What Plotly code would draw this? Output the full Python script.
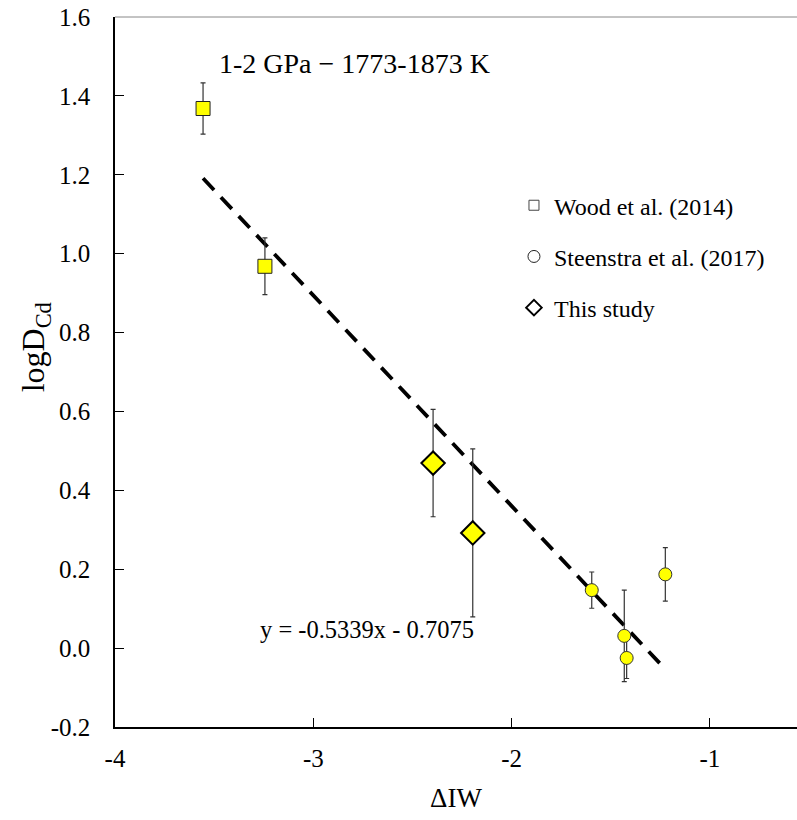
import plotly.graph_objects as go

# Data
wood_x = [-3.556, -3.244]
wood_y = [1.368, 0.968]
wood_err = [0.065, 0.072]

steen_x = [-1.596, -1.432, -1.420, -1.225]
steen_y = [0.147, 0.031, -0.025, 0.187]
steen_err = [0.046, 0.116, 0.052, 0.068]

study_x = [-2.396, -2.196]
study_y = [0.469, 0.292]
study_err = [0.136, 0.213]

slope = -0.5339
intercept = -0.7075
eq_label = "y = -0.5339x - 0.7075"
title_text = "1-2 GPa \u2212 1773-1873 K"
x_title = "\u0394IW"
y_title = "logD<sub>Cd</sub>"

FONT = "Times New Roman, Liberation Serif, serif"

all_x = wood_x + steen_x + study_x
tx = [min(all_x), max(all_x)]
ty = [slope * v + intercept for v in tx]

fig = go.Figure()

eb = dict(type="data", visible=True, color="#333333", thickness=1.2, width=2.5)

fig.add_trace(go.Scatter(x=tx, y=ty, mode="lines", showlegend=False,
                         line=dict(color="black", width=3.8, dash="16px,10px")))

fig.add_trace(go.Scatter(x=wood_x, y=wood_y, mode="markers", showlegend=False,
                         error_y=dict(array=wood_err, **eb),
                         marker=dict(symbol="square", size=14, color="#ffff00",
                                     line=dict(color="#222222", width=1))))
fig.add_trace(go.Scatter(x=study_x, y=study_y, mode="markers", showlegend=False,
                         error_y=dict(array=study_err, **eb),
                         marker=dict(symbol="diamond", size=18, color="#ffff00",
                                     line=dict(color="black", width=2))))
fig.add_trace(go.Scatter(x=steen_x, y=steen_y, mode="markers", showlegend=False,
                         error_y=dict(array=steen_err, **eb),
                         marker=dict(symbol="circle", size=13, color="#ffff00",
                                     line=dict(color="#333333", width=1))))

# legend-only entries
fig.add_trace(go.Scatter(x=[None], y=[None], mode="markers", name="Wood et al. (2014)",
                         legendgroup="a",
                         marker=dict(symbol="square", size=10, color="white",
                                     line=dict(color="#444444", width=1))))
fig.add_trace(go.Scatter(x=[None], y=[None], mode="markers", name="Steenstra et al. (2017)",
                         legendgroup="b",
                         marker=dict(symbol="circle", size=12, color="white",
                                     line=dict(color="#222222", width=1))))
fig.add_trace(go.Scatter(x=[None], y=[None], mode="markers", name="This study",
                         legendgroup="c",
                         marker=dict(symbol="diamond", size=12, color="white",
                                     line=dict(color="black", width=2))))

fig.add_annotation(x=0.15, y=0.935, xref="paper", yref="paper", text=title_text,
                   showarrow=False, xanchor="left", yanchor="middle",
                   font=dict(family=FONT, size=28, color="black"))
fig.add_annotation(x=0.209, y=0.138, xref="paper", yref="paper", text=eq_label,
                   showarrow=False, xanchor="left", yanchor="middle",
                   font=dict(family=FONT, size=24.5, color="black"))
fig.add_annotation(x=-0.117, y=0.535, xref="paper", yref="paper", text=y_title,
                   showarrow=False, xanchor="center", yanchor="middle", textangle=-90,
                   font=dict(family=FONT, size=32, color="black"))

fig.add_shape(type="line", xref="paper", yref="paper", x0=0, x1=1, y0=1, y1=1,
              line=dict(color="#888888", width=1))

fig.update_layout(
    width=797, height=820,
    margin=dict(l=115, r=0, t=17, b=93),
    plot_bgcolor="white", paper_bgcolor="white",
    font=dict(family=FONT, size=25, color="black"),
    legend=dict(x=0.585, y=0.766, xanchor="left", yanchor="top",
                font=dict(family=FONT, size=24, color="black"),
                bgcolor="rgba(0,0,0,0)", tracegroupgap=17, itemwidth=30),
    xaxis=dict(range=[-4, -0.561], tickvals=[-4, -3, -2, -1], ticktext=["-4", "-3", "-2", "-1"],
               automargin=False,
               showgrid=False, zeroline=False, showline=True, linecolor="black", linewidth=1.5,
               ticks="inside", ticklen=9, tickcolor="black", tickwidth=1,
               ticklabelstandoff=8,
               tickfont=dict(family=FONT, size=25),
               title=dict(text=x_title, font=dict(family=FONT, size=27), standoff=17)),
    yaxis=dict(range=[-0.2, 1.6], tickvals=[-0.2, 0, 0.2, 0.4, 0.6, 0.8, 1.0, 1.2, 1.4, 1.6],
               ticktext=["-0.2", "0.0", "0.2", "0.4", "0.6", "0.8", "1.0", "1.2", "1.4", "1.6"],
               automargin=False,
               showgrid=False, zeroline=False, showline=True, linecolor="black", linewidth=1.5,
               ticks="inside", ticklen=9, tickcolor="black", tickwidth=1,
               ticklabelstandoff=18,
               tickfont=dict(family=FONT, size=25)),
)

fig.write_html("out.html", config={"displayModeBar": False},
               post_script="document.body.style.margin='0';")
